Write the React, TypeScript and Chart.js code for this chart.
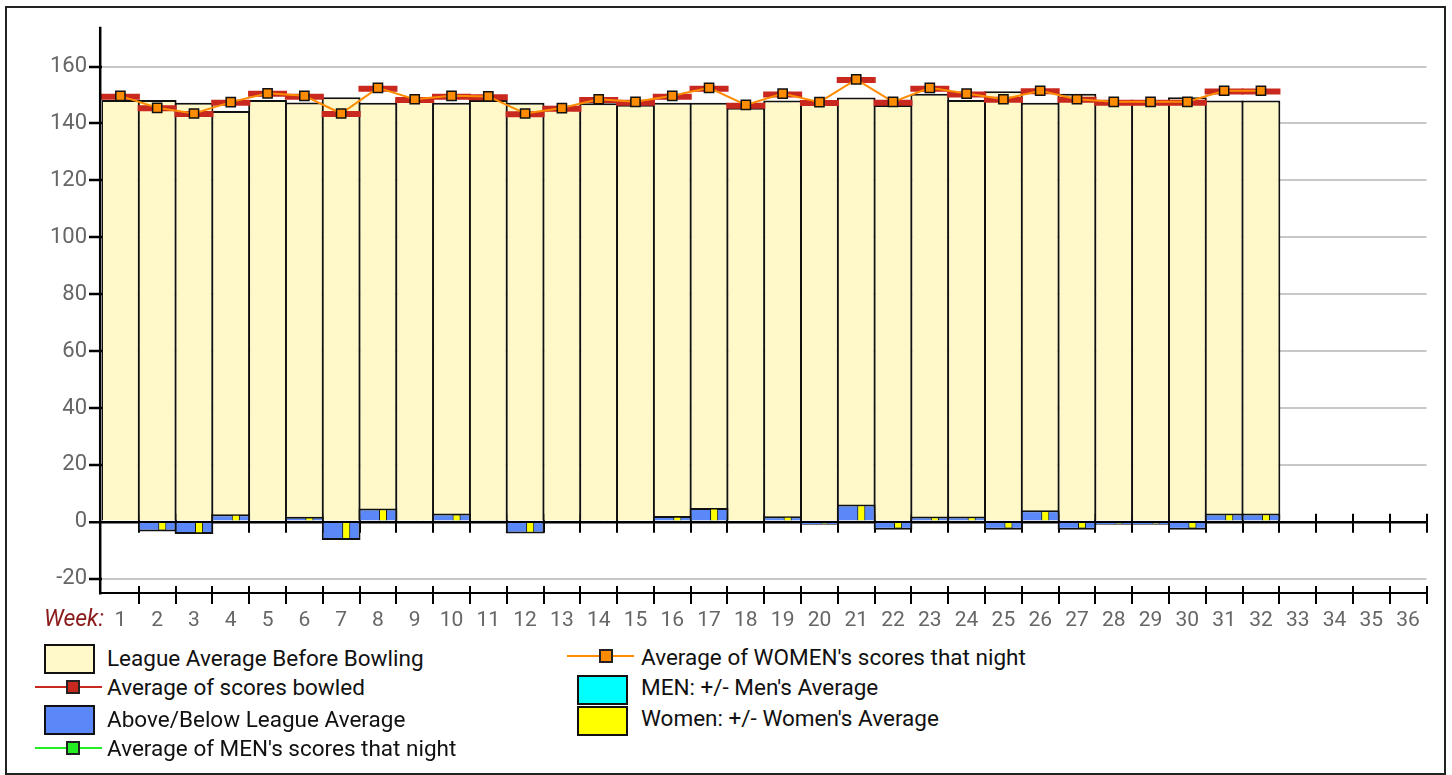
import React, { useEffect, useRef } from 'react';
import { Chart, registerables } from 'chart.js';

Chart.register(...registerables);

// ---- data ----
const weeks = ['1','2','3','4','5','6','7','8','9','10','11','12','13','14','15','16','17','18','19','20','21','22','23','24','25','26','27','28','29','30','31','32','33','34','35','36'];

const leagueAverage = [148.2, 148.2, 147.3, 144.4, 148.2, 147.4, 149.2, 147.3, 148.5, 147.3, 148.2, 147.3, 146.2, 147.1, 146.6, 147.3, 147.3, 145.5, 148.1, 147.1, 149.1, 146.5, 150.4, 148.2, 151.3, 147.3, 150.4, 147.3, 147.3, 149.2, 148.1, 148.1];

const averageBowled = [149.4, 145.3, 143.3, 147.3, 150.4, 149.4, 143.3, 152.2, 148.2, 149.4, 149.2, 143.2, 145.2, 148.2, 147.3, 149.4, 152.2, 146.2, 150.2, 147.2, 155.3, 147.3, 152.2, 150.2, 148.3, 151.3, 148.3, 147.3, 147.3, 147.3, 151.2, 151.2];

const aboveBelow = [0.5, -3.4, -4.3, 2.7, 0.5, 1.8, -6.4, 4.7, 0.5, 2.9, 0.6, -4.1, 0, 0.5, 0, 2.1, 4.9, 0, 2.0, -1.0, 6.1, -2.8, 1.9, 1.9, -2.8, 4.1, -2.8, -1.0, -1.0, -2.8, 2.9, 2.9];

const menAverage: number[] = [];

const womenAverage = [149.7, 145.5, 143.5, 147.5, 150.6, 149.7, 143.5, 152.5, 148.5, 149.7, 149.5, 143.5, 145.4, 148.5, 147.6, 149.7, 152.5, 146.5, 150.5, 147.5, 155.5, 147.6, 152.5, 150.5, 148.5, 151.5, 148.5, 147.6, 147.6, 147.6, 151.5, 151.5];

const menPlusMinus: number[] = [];

const womenPlusMinus = [0.4, -3.0, -4.0, 2.5, 0.4, 1.5, -6.0, 4.4, 0.4, 2.6, 0.4, -3.8, 0, 0.4, 0, 1.8, 4.7, 0, 1.8, -0.7, 5.8, -2.3, 1.6, 1.6, -2.3, 3.8, -2.3, -0.7, -0.7, -2.3, 2.7, 2.7];

const yTickValues = [-20, 0, 20, 40, 60, 80, 100, 120, 140, 160];

// ---- colours ----
const CREAM = '#FFF8C8';
const BLUE = '#5A88F8';
const RED = '#C8281E';
const ORANGE = '#FF8C00';
const GREEN = '#22EE22';
const CYAN = '#00FFFF';
const YELLOW = '#FFFF00';
const FONT = 'Roboto, "Noto Sans", sans-serif';

const axesPlugin = {
  id: 'customAxes',
  beforeDatasetsDraw(chart: any) {
    const { ctx, scales } = chart;
    const x = scales.x;
    const y = scales.y;
    const zeroY = y.getPixelForValue(0);
    ctx.save();
    ctx.strokeStyle = '#000';
    ctx.lineWidth = 2;
    ctx.beginPath();
    for (let i = 0; i < weeks.length; i++) {
      const px = Math.round(x.getPixelForValue(i + 0.5));
      ctx.moveTo(px, zeroY - 8);
      ctx.lineTo(px, zeroY + 11);
    }
    ctx.stroke();
    ctx.restore();
  },
  afterDatasetsDraw(chart: any) {
    const { ctx, chartArea, scales } = chart;
    const x = scales.x;
    const bottom = chartArea.bottom;
    ctx.save();
    ctx.strokeStyle = '#000';
    // y axis line
    ctx.lineWidth = 2.5;
    ctx.beginPath();
    ctx.moveTo(chartArea.left - 1.8, chartArea.top);
    ctx.lineTo(chartArea.left - 1.8, bottom + 1.5);
    ctx.stroke();
    // bottom axis line
    ctx.lineWidth = 2;
    ctx.beginPath();
    ctx.moveTo(chartArea.left - 3, bottom);
    ctx.lineTo(chartArea.right, bottom);
    ctx.stroke();
    ctx.beginPath();
    for (let i = 0; i < weeks.length; i++) {
      const px = Math.round(x.getPixelForValue(i + 0.5));
      ctx.moveTo(px, bottom - 7);
      ctx.lineTo(px, bottom + 11);
    }
    ctx.stroke();
    ctx.restore();
  },
};

function LegendText({ left, cy, children }: { left: number; cy: number; children: any }) {
  return (
    <div
      style={{
        position: 'absolute',
        left,
        top: cy - 13,
        height: 26,
        lineHeight: '26px',
        fontFamily: FONT,
        fontSize: 22.5,
        color: '#111',
        whiteSpace: 'nowrap',
      }}
    >
      {children}
    </div>
  );
}

function Swatch({ left, top, color }: { left: number; top: number; color: string }) {
  return (
    <div
      style={{
        position: 'absolute',
        left,
        top,
        width: 51,
        height: 30,
        boxSizing: 'border-box',
        border: '2px solid #111',
        background: color,
      }}
    />
  );
}

function LineMarker({ left, width, cy, color, markerLeft, size, lineW }: { left: number; width: number; cy: number; color: string; markerLeft: number; size: number; lineW: number }) {
  return (
    <>
      <div style={{ position: 'absolute', left, top: cy - lineW / 2, width, height: lineW, background: color }} />
      <div
        style={{
          position: 'absolute',
          left: markerLeft,
          top: cy - size / 2,
          width: size,
          height: size,
          boxSizing: 'border-box',
          border: '2px solid #222',
          background: color,
        }}
      />
    </>
  );
}

export default function App() {
  const canvasRef = useRef<HTMLCanvasElement | null>(null);

  useEffect(() => {
    document.body.style.overflow = 'hidden';
    const canvas = canvasRef.current;
    if (!canvas) return;
    const barPct = 1.054;
    const chart = new Chart(canvas, {
      type: 'bar',
      data: {
        labels: weeks,
        datasets: [
          {
            type: 'line',
            label: "Average of WOMEN's scores that night",
            data: womenAverage,
            borderColor: ORANGE,
            borderWidth: 2,
            backgroundColor: ORANGE,
            pointStyle: 'rect',
            pointRadius: 6.5,
            pointBackgroundColor: ORANGE,
            pointBorderColor: '#111',
            pointBorderWidth: 1.5,
            tension: 0,
            order: 1,
            clip: false,
          } as any,
          {
            type: 'line',
            label: "Average of MEN's scores that night",
            data: menAverage,
            borderColor: GREEN,
            borderWidth: 2,
            pointStyle: 'rect',
            pointRadius: 6.5,
            pointBackgroundColor: GREEN,
            pointBorderColor: '#111',
            order: 1.5,
          } as any,
          {
            type: 'line',
            label: 'Average of scores bowled',
            data: averageBowled,
            showLine: false,
            borderColor: RED,
            backgroundColor: RED,
            pointStyle: 'line',
            pointRadius: 19.5,
            pointBorderWidth: 6,
            pointBorderColor: RED,
            pointHoverRadius: 19.5,
            order: 2,
            clip: false,
          } as any,
          {
            type: 'bar',
            label: "MEN: +/- Men's Average",
            data: menPlusMinus,
            backgroundColor: CYAN,
            borderColor: '#111',
            borderWidth: 1,
            categoryPercentage: 0.55,
            barPercentage: 0.8,
            order: 3,
          } as any,
          {
            type: 'bar',
            label: "Women: +/- Women's Average",
            data: womenPlusMinus,
            backgroundColor: YELLOW,
            borderColor: '#111',
            borderWidth: 1,
            categoryPercentage: 0.55,
            barPercentage: 0.8,
            order: 3.5,
          } as any,
          {
            type: 'bar',
            label: 'Above/Below League Average',
            data: aboveBelow,
            backgroundColor: BLUE,
            borderColor: '#111',
            borderWidth: 2,
            grouped: false,
            categoryPercentage: 1,
            barPercentage: barPct,
            order: 4,
          } as any,
          {
            type: 'bar',
            label: 'League Average Before Bowling',
            data: leagueAverage,
            backgroundColor: CREAM,
            borderColor: '#111',
            borderWidth: 2,
            grouped: false,
            categoryPercentage: 1,
            barPercentage: barPct,
            order: 5,
          } as any,
        ],
      },
      options: {
        responsive: false,
        animation: false,
        events: [],
        layout: { padding: { left: 0, right: 25.5, top: 26.7, bottom: 0 } },
        plugins: {
          legend: { display: false },
          tooltip: { enabled: false },
          title: { display: false },
        },
        scales: {
          x: {
            type: 'category',
            offset: true,
            grid: { display: false, drawTicks: false },
            border: { display: false },
            ticks: {
              font: { family: FONT, size: 21 },
              color: '#666',
              padding: 15,
              maxRotation: 0,
              autoSkip: false,
            },
            afterFit: (s: any) => {
              s.height = 47;
            },
          },
          y: {
            type: 'linear',
            min: -25,
            max: 174,
            afterBuildTicks: (s: any) => {
              s.ticks = yTickValues.map((v) => ({ value: v }));
            },
            afterFit: (s: any) => {
              s.width = 102;
            },
            grid: {
              color: (c: any) => (c.tick && c.tick.value === 0 ? '#000' : '#c8c8c8'),
              lineWidth: (c: any) => (c.tick && c.tick.value === 0 ? 2.5 : 2),
              tickColor: '#000',
              tickLength: 13,
              tickWidth: 2.5,
              drawTicks: true,
            },
            border: { display: false },
            ticks: {
              font: { family: FONT, size: 22 },
              color: '#666',
              padding: 2,
            },
          },
        },
      } as any,
      plugins: [axesPlugin],
    });
    return () => {
      chart.destroy();
    };
  }, []);

  return (
    <div>
      <div
        style={{
          position: 'absolute',
          left: 5,
          top: 6,
          width: 1441,
          height: 769,
          boxSizing: 'border-box',
          border: '2px solid #222',
        }}
      />
      <canvas
        ref={canvasRef}
        width={1452}
        height={640}
        style={{ position: 'absolute', left: 0, top: 0, width: 1452, height: 640 }}
      />
      <div
        style={{
          position: 'absolute',
          left: 44,
          top: 606,
          height: 26,
          lineHeight: '26px',
          fontFamily: FONT,
          fontSize: 23,
          fontStyle: 'italic',
          color: '#8B1A1A',
        }}
      >
        Week:
      </div>

      {/* legend, left column */}
      <Swatch left={44} top={644} color={CREAM} />
      <LegendText left={107} cy={658}>League Average Before Bowling</LegendText>
      <LineMarker left={35} width={67} cy={687} color={RED} markerLeft={66} size={14} lineW={1.5} />
      <LegendText left={107} cy={687}>Average of scores bowled</LegendText>
      <Swatch left={44} top={705} color={BLUE} />
      <LegendText left={107} cy={719}>Above/Below League Average</LegendText>
      <LineMarker left={35} width={67} cy={748} color={GREEN} markerLeft={66} size={14} lineW={2} />
      <LegendText left={107} cy={748}>Average of MEN's scores that night</LegendText>

      {/* legend, right column */}
      <LineMarker left={567} width={67} cy={656} color={ORANGE} markerLeft={599} size={14} lineW={2} />
      <LegendText left={641} cy={657}>Average of WOMEN's scores that night</LegendText>
      <Swatch left={577} top={675} color={CYAN} />
      <LegendText left={641} cy={687}>MEN: +/- Men's Average</LegendText>
      <Swatch left={577} top={706} color={YELLOW} />
      <LegendText left={641} cy={718}>Women: +/- Women's Average</LegendText>
    </div>
  );
}
